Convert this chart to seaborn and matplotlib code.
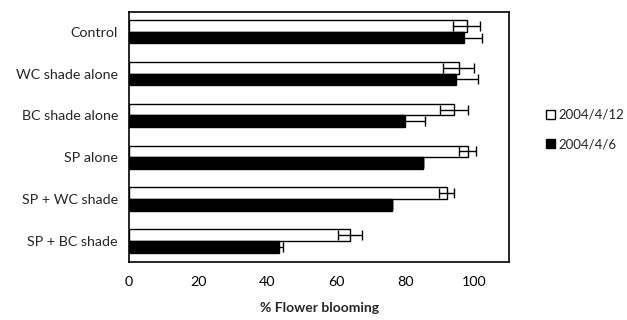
import matplotlib
matplotlib.use("Agg")
import matplotlib.pyplot as plt
import seaborn as sns
import pandas as pd
import numpy as np

categories = ["Control", "WC shade alone", "BC shade alone", "SP alone", "SP + WC shade", "SP + BC shade"]
dates = ["2004/4/12", "2004/4/6"]
vals_0412 = [97.7, 95.4, 94.0, 98.0, 92.0, 64.0]
err_0412 = [4.0, 4.5, 4.0, 2.4, 2.2, 3.5]
vals_0406 = [97.0, 94.7, 80.0, 85.0, 76.0, 43.3]
err_0406 = [5.2, 6.3, 5.6, 0.0, 0.0, 1.3]
xticks = [0, 20, 40, 60, 80, 100]

rows = []
for c, v, e in zip(categories, vals_0412, err_0412):
    rows.append({"cat": c, "date": dates[0], "val": v, "err": e})
for c, v, e in zip(categories, vals_0406, err_0406):
    rows.append({"cat": c, "date": dates[1], "val": v, "err": e})
df = pd.DataFrame(rows)

sns.set_style("white")
plt.rcParams["font.family"] = ["Lato", "DejaVu Sans"]

fig = plt.figure(figsize=(6.27, 3.2), dpi=100)
ax = fig.add_axes([129/627, 1 - 262/320, (509-129)/627, (262-12)/320])

sns.barplot(data=df, y="cat", x="val", hue="date", order=categories, hue_order=dates,
            palette=["white", "black"], edgecolor="black", linewidth=1.0,
            width=0.56, errorbar=None, ax=ax, orient="h")

# error bars aligned with bars
for cont, d in zip(ax.containers, dates):
    sub = df[df["date"] == d].set_index("cat").loc[categories]
    ys = [p.get_y() + p.get_height() / 2 for p in cont.patches]
    ax.errorbar(sub["val"].values, ys, xerr=sub["err"].values, fmt="none",
                ecolor="black", elinewidth=1.0, capsize=3.5, capthick=1.0)

ax.set_xlim(0, 110)
ax.set_ylim(5.5, -0.47)
ax.set_xticks(xticks)
ax.set_xticklabels([str(t) for t in xticks], fontsize=10.3)
ax.tick_params(axis="x", direction="in", length=4, width=1, pad=10, colors="black")
ax.tick_params(axis="y", length=0, pad=8, labelsize=10.3)
ax.set_ylabel("")
ax.set_xlabel("% Flower blooming", fontsize=10, fontweight="bold", labelpad=10)
for s in ax.spines.values():
    s.set_visible(True)
    s.set_color("black")
    s.set_linewidth(1.2)

h, l = ax.get_legend_handles_labels()
ax.legend(h, l, loc="center left", bbox_to_anchor=(1.065, 0.53), frameon=False,
          fontsize=9.5, handlelength=0.7, handleheight=0.7, handletextpad=0.3,
          labelspacing=1.3)

fig.savefig("out.png", dpi=100)
